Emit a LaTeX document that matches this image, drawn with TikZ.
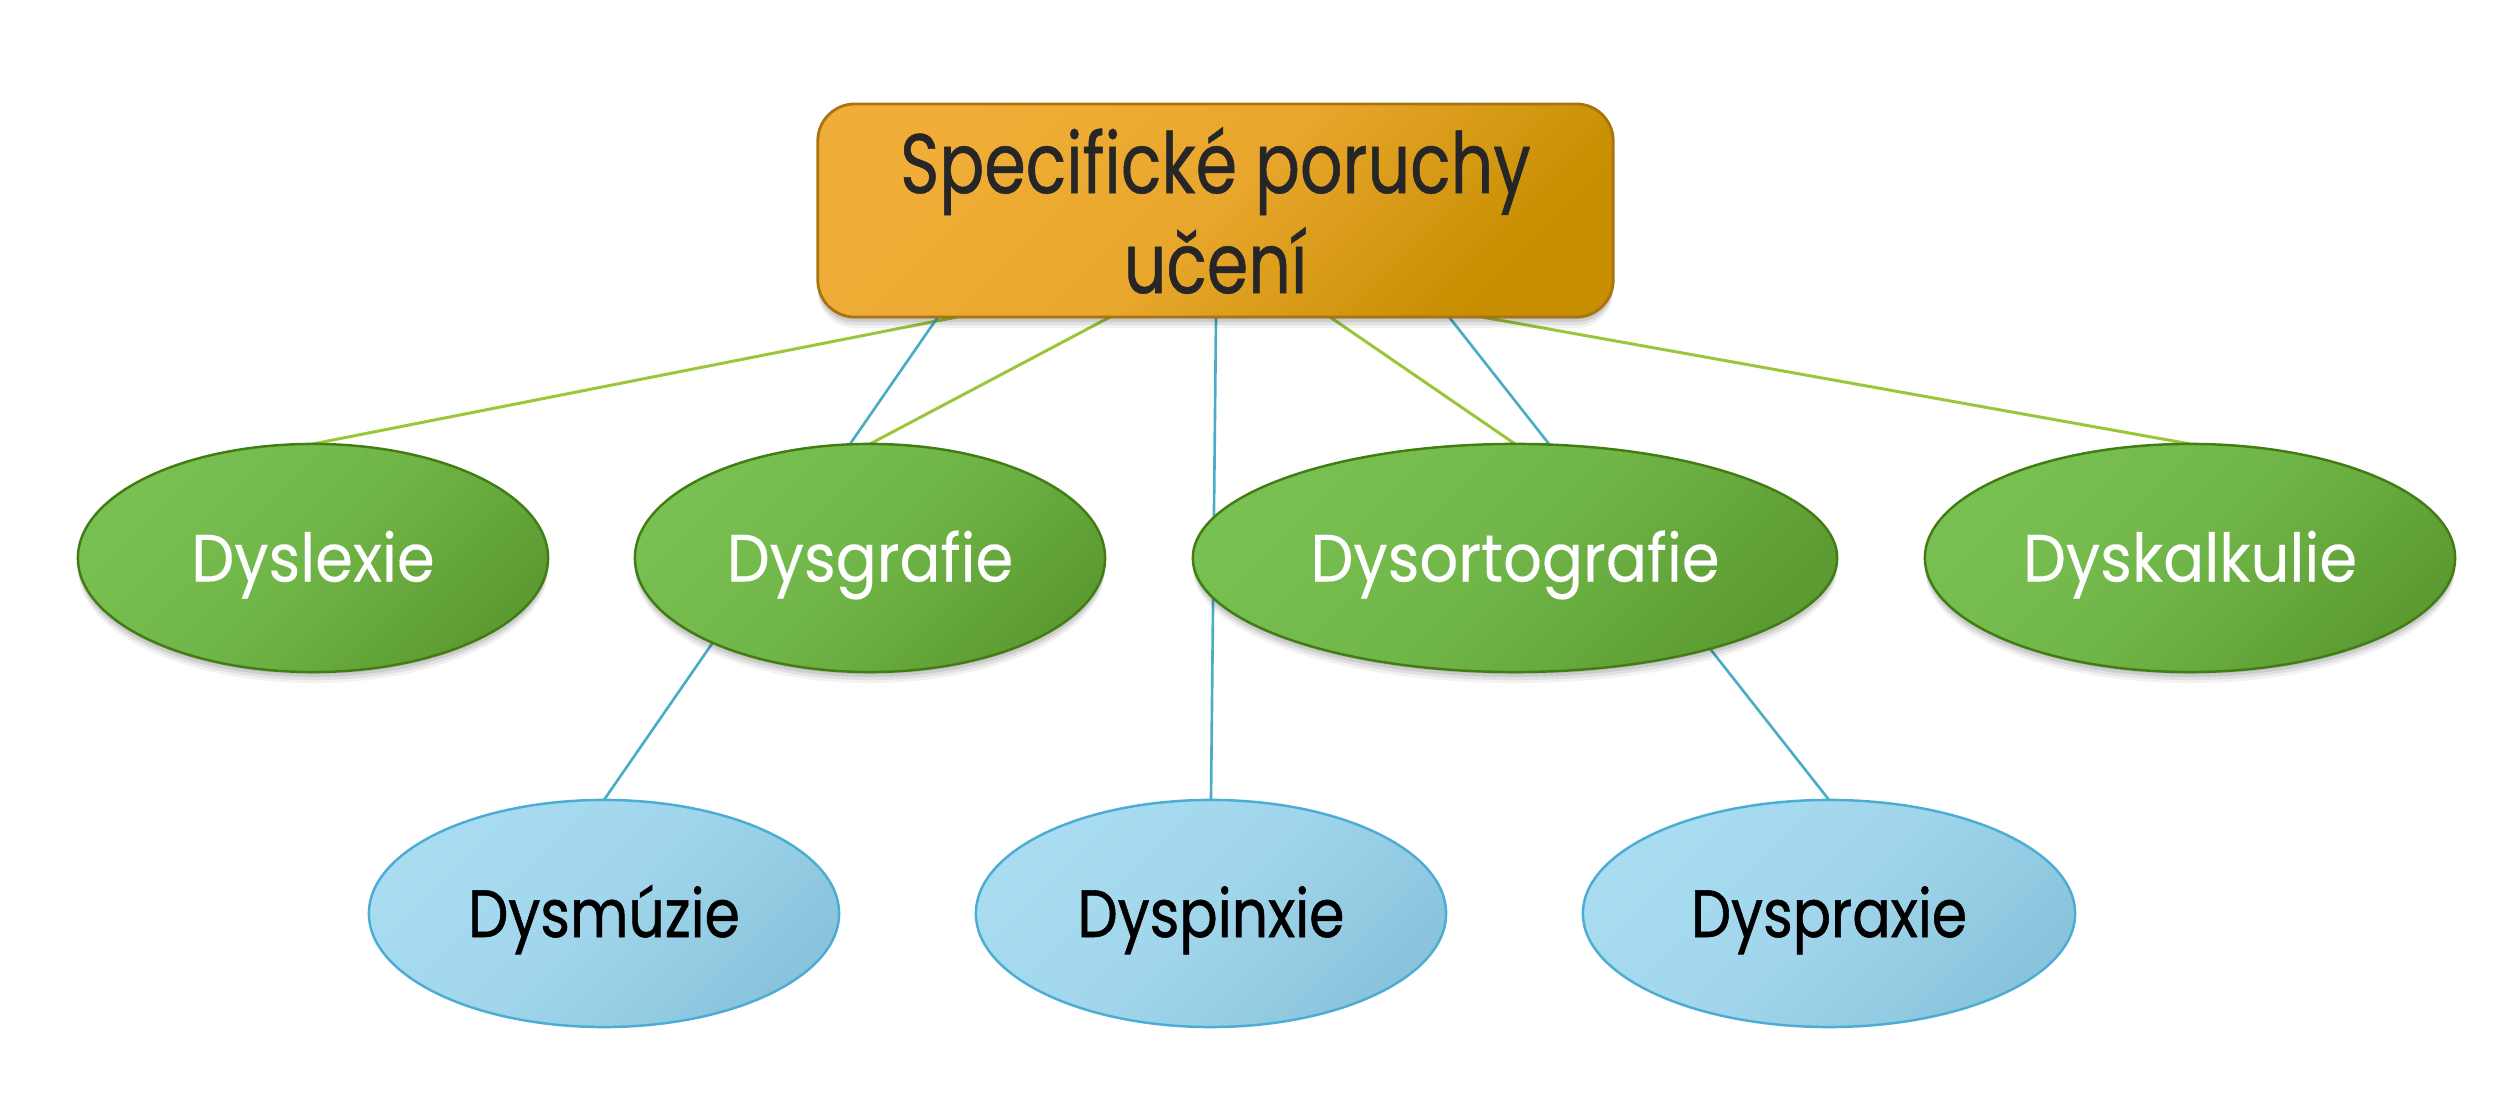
\documentclass[tikz,border=0pt]{standalone}
\usepackage{fontspec}
\setmainfont[FakeStretch=0.82]{Poppins}
\newfontfamily\rootfont[FakeStretch=0.79,FakeBold=0.6]{Poppins}
\newfontfamily\grnfont[FakeStretch=0.91,FakeBold=0.2]{Poppins}
\newfontfamily\blufont[FakeStretch=0.85,FakeBold=0.8]{Poppins}
\usetikzlibrary{shapes.geometric,shadows}
\definecolor{rootA}{HTML}{F0AE38}
\definecolor{rootM}{HTML}{E8A62C}
\definecolor{rootB}{HTML}{C68E00}
\definecolor{rootEdge}{HTML}{A97410}
\definecolor{rootText}{HTML}{262626}
\definecolor{grnA}{HTML}{79C052}
\definecolor{grnM}{HTML}{70B548}
\definecolor{grnB}{HTML}{5C9B31}
\definecolor{grnEdge}{HTML}{427D14}
\definecolor{bluA}{HTML}{A9DCF1}
\definecolor{bluM}{HTML}{A0D5EB}
\definecolor{bluB}{HTML}{89C4DC}
\definecolor{bluEdge}{HTML}{4BADD3}
\definecolor{lineG}{HTML}{9BC63A}
\definecolor{lineB}{HTML}{4BACC6}
\pgfdeclarelayer{bg}
\pgfsetlayers{bg,main}
\begin{document}
\begin{tikzpicture}[x=0.01cm,y=-0.01cm,
  softshadow/.style={
    drop shadow={shadow xshift=0pt, shadow yshift=-0.02cm, opacity=0.09, fill=black},
    drop shadow={shadow xshift=0pt, shadow yshift=-0.05cm, opacity=0.09, fill=black},
    drop shadow={shadow xshift=0pt, shadow yshift=-0.08cm, opacity=0.07, fill=black},
    drop shadow={shadow xshift=0pt, shadow yshift=-0.11cm, opacity=0.05, fill=black}},
  rootbox/.style={rectangle, rounded corners=0.37cm, draw=rootEdge, line width=0.8pt,
    top color=rootA, bottom color=rootB, middle color=rootM, shading angle=45,
    minimum width=7.95cm, minimum height=2.13cm, inner sep=0pt, outer sep=0pt,
    align=center, text=rootText, font=\rootfont\fontsize{24}{28.45}\selectfont,
    softshadow},
  grnell/.style={ellipse, draw=grnEdge, line width=0.7pt,
    top color=grnA, bottom color=grnB, middle color=grnM, shading angle=45,
    minimum height=2.28cm, inner sep=0pt, outer sep=0pt, text=white,
    font=\grnfont\fontsize{19}{22}\selectfont, text height=0.47cm, text depth=0pt,
    softshadow},
  bluell/.style={ellipse, draw=bluEdge, line width=0.7pt,
    top color=bluA, bottom color=bluB, middle color=bluM, shading angle=45,
    minimum height=2.27cm, inner sep=0pt, outer sep=0pt, text=black,
    font=\blufont\fontsize{19}{22}\selectfont, text height=0.47cm, text depth=0pt},
  gline/.style={draw=lineG, line width=0.85pt},
  bline/.style={draw=lineB, line width=0.75pt}
]
\useasboundingbox (0,0) rectangle (2496,1104);

\node[rootbox] (root) at (1215.5,210.5) {Specifické poruchy\\učení};

\node[grnell, minimum width=4.70cm] (dyslexie) at (313,558) {Dyslexie};
\node[grnell, minimum width=4.70cm] (dysgrafie) at (870,558) {Dysgrafie};
\node[grnell, minimum width=6.44cm] (dysorto) at (1515,558) {Dysortografie};
\node[grnell, minimum width=5.30cm] (dyskalk) at (2190,558) {Dyskalkulie};

\node[bluell, minimum width=4.70cm] (dysmuzie) at (604,913.5) {Dysmúzie};
\node[bluell, minimum width=4.70cm] (dyspinxie) at (1211,913.5) {Dyspinxie};
\node[bluell, minimum width=4.92cm] (dyspraxie) at (1829,913.5) {Dyspraxie};

\begin{pgfonlayer}{bg}
\draw[gline] ([xshift=-2.585cm]root.south) -- (dyslexie.north);
\draw[bline] ([xshift=-2.775cm]root.south) -- (dysmuzie.north);
\draw[gline] ([xshift=-1.055cm]root.south) -- (dysgrafie.north);
\draw[bline] ([xshift=0.005cm]root.south) -- (dyspinxie.north);
\draw[gline] ([xshift=1.145cm]root.south) -- (dysorto.north);
\draw[bline] ([xshift=2.335cm]root.south) -- (dyspraxie.north);
\draw[gline] ([xshift=2.665cm]root.south) -- (dyskalk.north);
\end{pgfonlayer}
\end{tikzpicture}
\end{document}
